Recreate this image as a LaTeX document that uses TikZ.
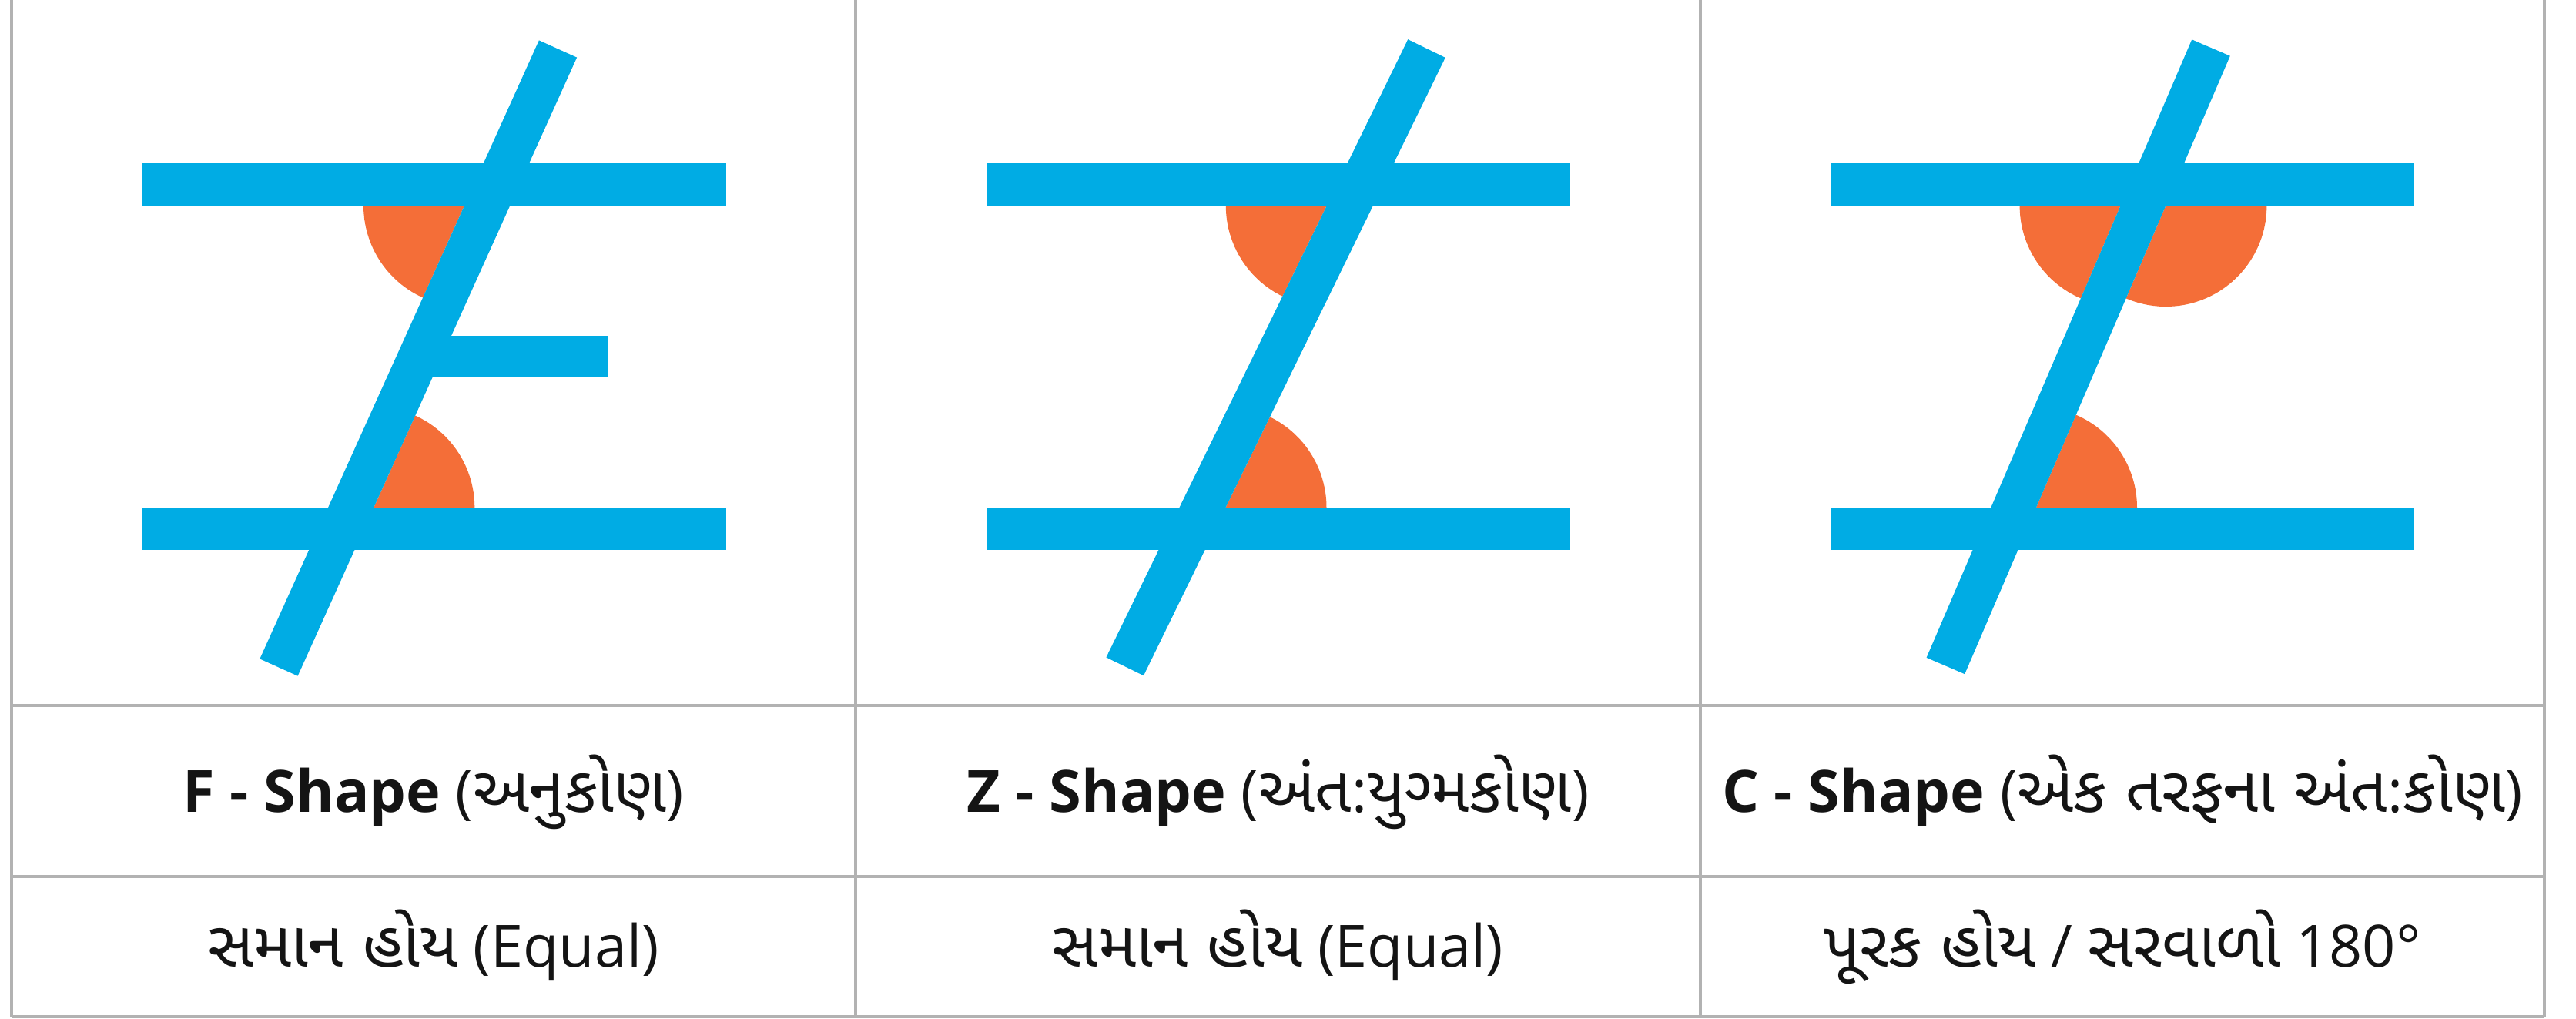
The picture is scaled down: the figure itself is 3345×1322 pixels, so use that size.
\documentclass[tikz,border=0pt]{standalone}
\usepackage{fontspec}
\setmainfont{Open Sans}
\newfontfamily\guj[Script=Gujarati,Scale=1.1]{Noto Sans Gujarati UI}
\definecolor{tblue}{RGB}{0,172,228}
\definecolor{tor}{RGB}{244,110,56}
\definecolor{gridc}{RGB}{178,178,178}
\begin{document}
\begin{tikzpicture}[x=0.25pt,y=-0.25pt,
  bar/.style={fill=tblue},
  trans/.style={draw=tblue,line width=13.5pt},
  ang/.style={fill=tor},
  gridline/.style={draw=gridc,line width=0.8pt},
  lbl/.style={anchor=base,inner sep=0pt,text=black!92,font=\fontsize{18.9}{22}\selectfont}]
\useasboundingbox (0,0) rectangle (3345,1322);
\fill[white] (0,0) rectangle (3345,1322);

% ---------- Panel 1 : F-shape ----------
\fill[ang] (603,267) -- ++(114.3:131) arc (114.3:180:131) -- cycle;
\fill[ang] (485.3,659) -- ++(-65.7:131) arc (-65.7:0:131) -- cycle;
\fill[bar] (184,212) rectangle (943,267);
\fill[bar] (184,659) rectangle (943,714);
\fill[bar] (560,436) rectangle (790,490);
\draw[trans] (724.5,63.5) -- (362,866.5);

% ---------- Panel 2 : Z-shape ----------
\fill[ang] (1722.8,267) -- ++(116.03:131) arc (116.03:180:131) -- cycle;
\fill[ang] (1591.5,659) -- ++(-63.97:131) arc (-63.97:0:131) -- cycle;
\fill[bar] (1280.5,212) rectangle (2039,267);
\fill[bar] (1280.5,659) rectangle (2039,714);
\draw[trans] (1852.5,63) -- (1460.7,865.3);

% ---------- Panel 3 : C-shape ----------
\fill[ang] (2753.6,267) -- ++(113.24:131) arc (113.24:180:131) -- cycle;
\fill[ang] (2812.4,267) -- ++(0:131) arc (0:113.24:131) -- cycle;
\fill[ang] (2644.0,659) -- ++(-66.76:131) arc (-66.76:0:131) -- cycle;
\fill[bar] (2376.5,212) rectangle (3135,267);
\fill[bar] (2376.5,659) rectangle (3135,714);
\draw[trans] (2871,62) -- (2526.4,864.5);

% ---------- grid ----------
\draw[gridline] (15,0) -- (15,1321);
\draw[gridline] (1111,0) -- (1111,1321);
\draw[gridline] (2208,0) -- (2208,1321);
\draw[gridline] (3304,0) -- (3304,1321);
\draw[gridline] (15,916) -- (3304,916);
\draw[gridline] (15,1138) -- (3304,1138);
\draw[gridline] (15,1320) -- (3304,1320);

% ---------- labels ----------
\node[lbl] (t1) at (563,1054) {\textbf{F - Shape} ({\guj અનુકોણ})};
\node[lbl] (t2) at (1659.5,1054) {\textbf{Z - Shape} ({\guj અંત}:{\guj યુગ્મકોણ})};
\node[lbl] (t3) at (2756,1054) {\textbf{C - Shape} ({\guj એક તરફના અંત}:{\guj કોણ})};
\node[lbl] (e1) at (563,1255) {{\guj સમાન હોય} (Equal)};
\node[lbl] (e2) at (1659.5,1255) {{\guj સમાન હોય} (Equal)};
\node[lbl] (e3) at (2756,1255) {{\guj પૂરક હોય} / {\guj સરવાળો} 180°};
\end{tikzpicture}
\end{document}
